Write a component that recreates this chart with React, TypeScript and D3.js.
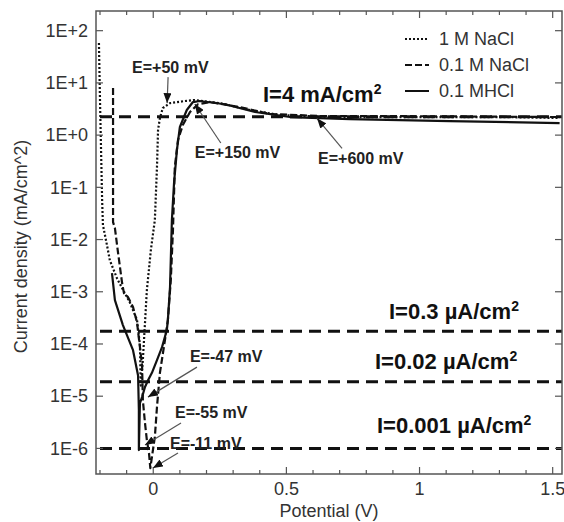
import React from "react";
import * as d3 from "d3";

// potential (V) and current density (mA/cm^2)
const naCl1M_E = [-0.204, -0.2, -0.196, -0.192, -0.189, -0.174, -0.163, -0.136, -0.114, -0.087, -0.061, -0.05, -0.047, -0.039, -0.024, -0.009, 0.006, 0.014, 0.018, 0.025, 0.036, 0.063, 0.119, 0.156, 0.25, 0.363, 0.475, 0.663, 1.0, 1.3, 1.526];
const naCl1M_I = [58, 4.7, 0.52, 0.057, 0.019, 0.0079, 0.004, 0.0018, 0.0011, 6.1e-4, 2.9e-4, 9.5e-5, 1.6e-5, 4.9e-5, 1.07e-3, 6.3e-3, 0.0236, 0.245, 1.25, 2.13, 3.3, 4.1, 4.5, 4.7, 4.1, 3.03, 2.43, 2.22, 2.22, 2.22, 2.13];

const naCl01M_E = [-0.151, -0.151, -0.151, -0.144, -0.132, -0.117, -0.11, -0.095, -0.076, -0.061, -0.05, -0.042, -0.039, -0.031, -0.024, -0.016, -0.011, 0.006, 0.014, 0.025, 0.044, 0.055, 0.066, 0.074, 0.081, 0.093, 0.111, 0.138, 0.168, 0.213, 0.325, 0.438, 0.625, 1.0, 1.526];
const naCl01M_I = [8.0, 0.52, 0.0216, 0.0166, 5.5e-3, 1.47e-3, 9.4e-4, 7.9e-4, 5.1e-4, 2.6e-4, 8.7e-5, 3.9e-5, 8.4e-6, 3.05e-6, 1.44e-6, 8.1e-7, 4.2e-7, 1.66e-6, 6.2e-6, 2.8e-5, 1.19e-4, 2.9e-4, 1.7e-3, 0.015, 0.245, 0.81, 1.56, 2.77, 3.9, 4.3, 3.45, 2.54, 2.32, 2.3, 2.22];

const hcl01M_E = [-0.155, -0.144, -0.114, -0.076, -0.057, -0.054, -0.054, -0.05, -0.042, -0.031, -0.02, -0.005, 0.014, 0.033, 0.051, 0.055, 0.063, 0.07, 0.078, 0.089, 0.1, 0.126, 0.149, 0.175, 0.269, 0.382, 0.513, 0.738, 1.113, 1.526];
const hcl01M_I = [2.28e-3, 6.9e-4, 2.3e-4, 7.6e-5, 2.5e-5, 5.4e-6, 9.3e-7, 7.4e-6, 9.6e-6, 1.5e-5, 2.0e-5, 2.8e-5, 4.9e-5, 8.7e-5, 1.85e-4, 2.9e-4, 1.23e-3, 0.0236, 0.12, 0.52, 1.43, 3.03, 4.3, 4.5, 3.9, 2.77, 2.22, 2.03, 1.86, 1.7];

const seriesNames = ["1 M NaCl", "0.1 M NaCl", "0.1 MHCl"];
const seriesDash = ["2,2", "7,3", "none"];

// horizontal reference levels and their labels
const refLevels = [2.24, 1.75e-4, 1.9e-5, 1e-6];
const refLabels = ["I=4 mA/cm", "I=0.3 \u00b5A/cm", "I=0.02 \u00b5A/cm", "I=0.001 \u00b5A/cm"];

// annotated potentials: tip of arrow at [E, I]
const annoText = ["E=+50 mV", "E=+150 mV", "E=+600 mV", "E=-47 mV", "E=-55 mV", "E=-11 mV"];
const annoE = [0.052, 0.156, 0.615, -0.02, -0.031, -0.001];
const annoI = [4.1, 3.95, 2.1, 9.6e-6, 1.16e-6, 4.2e-7];

const yTickValues = [1e2, 1e1, 1e0, 1e-1, 1e-2, 1e-3, 1e-4, 1e-5, 1e-6];
const yTickLabels = ["1E+2", "1E+1", "1E+0", "1E-1", "1E-2", "1E-3", "1E-4", "1E-5", "1E-6"];
const xTickValues = [0, 0.5, 1, 1.5];
const xTickLabels = ["0", "0.5", "1", "1.5"];

const W = 564;
const H = 522;
const margin = { top: 11, right: 2, bottom: 48, left: 96 };
const FONT = "Arial, 'Liberation Sans', sans-serif";

export default function App() {
  const x = d3.scaleLinear().domain([-0.215, 1.535]).range([margin.left, W - margin.right]);
  const y = d3.scaleLog().domain([Math.pow(10, -6.49), Math.pow(10, 2.377)]).range([H - margin.bottom, margin.top]);

  const line = d3
    .line<[number, number]>()
    .x((d) => x(d[0]))
    .y((d) => y(d[1]));

  const series = [
    d3.zip(naCl1M_E, naCl1M_I) as [number, number][],
    d3.zip(naCl01M_E, naCl01M_I) as [number, number][],
    d3.zip(hcl01M_E, hcl01M_I) as [number, number][],
  ];

  const x0 = margin.left;
  const x1 = W - margin.right;
  const y0 = margin.top;
  const y1 = H - margin.bottom;

  const minorX = d3.range(-0.2, 1.55, 0.1).map((v) => Math.round(v * 10) / 10);

  // pixel offsets of arrow start and label start relative to the tip
  const annoOffsets = [
    { sx: 1, sy: -26, tx: -35, ty: -30 },
    { sx: 26, sy: 39, tx: 0, ty: 54 },
    { sx: 25, sy: 30, tx: 1, ty: 46 },
    { sx: 49, sy: -30, tx: 42, ty: -35 },
    { sx: 36, sy: -22, tx: 30, ty: -27 },
    { sx: 25, sy: -15, tx: 17, ty: -19 },
  ];
  const refLabelPos = [
    { x: 263, dy: -15 },
    { x: 389, dy: -12 },
    { x: 375, dy: -13 },
    { x: 377, dy: -15 },
  ];

  return (
    <svg
      width={W}
      height={H}
      style={{ position: "absolute", left: 0, top: 0, background: "#fff" }}
      fontFamily={FONT}
    >
      <defs>
        <clipPath id="plot">
          <rect x={x0} y={y0} width={x1 - x0} height={y1 - y0} />
        </clipPath>
        <marker id="arrow" markerUnits="userSpaceOnUse" markerWidth={10} markerHeight={8} refX={10} refY={4} orient="auto">
          <path d="M0,0 L10,4 L0,8 z" fill="#111" />
        </marker>
      </defs>

      {/* reference levels */}
      <g clipPath="url(#plot)">
        {refLevels.map((v, i) => (
          <line key={i} x1={x0 + 4} x2={x1} y1={y(v)} y2={y(v)} stroke="#111" strokeWidth={3} strokeDasharray="12,7" />
        ))}
      </g>

      {/* curves */}
      <g clipPath="url(#plot)" fill="none" stroke="#111" strokeWidth={2.2}>
        {series.map((s, i) => (
          <path key={i} d={line(s) || ""} strokeDasharray={seriesDash[i]} strokeLinejoin="round" />
        ))}
      </g>

      {/* frame and ticks */}
      <rect x={x0} y={y0} width={x1 - x0} height={y1 - y0} fill="none" stroke="#555" strokeWidth={1.5} />
      <g stroke="#555" strokeWidth={1.2}>
        {minorX.map((v) => {
          const major = xTickValues.some((t) => Math.abs(t - v) < 1e-6);
          const len = major ? 7 : 4;
          return (
            <g key={v}>
              <line x1={x(v)} x2={x(v)} y1={y1} y2={y1 - len} />
              <line x1={x(v)} x2={x(v)} y1={y0} y2={y0 + len} />
            </g>
          );
        })}
        {yTickValues.map((v) => (
          <g key={v}>
            <line x1={x0} x2={x0 + 7} y1={y(v)} y2={y(v)} />
            <line x1={x1} x2={x1 - 7} y1={y(v)} y2={y(v)} />
          </g>
        ))}
      </g>

      {/* tick labels */}
      <g fill="#333" fontSize={18}>
        {yTickValues.map((v, i) => (
          <text key={v} x={x0 - 8} y={y(v)} dy="0.35em" textAnchor="end">
            {yTickLabels[i]}
          </text>
        ))}
        {xTickValues.map((v, i) => (
          <text key={v} x={x(v)} y={495} textAnchor="middle">
            {xTickLabels[i]}
          </text>
        ))}
        <text x={(x0 + x1) / 2} y={517} textAnchor="middle" fontSize={18}>
          Potential (V)
        </text>
        <text transform={`translate(27,${(y0 + y1) / 2 + 4}) rotate(-90)`} textAnchor="middle" fontSize={18}>
          Current density (mA/cm^2)
        </text>
      </g>

      {/* legend */}
      <g>
        {seriesNames.map((n, i) => (
          <g key={n} transform={`translate(405,${39 + i * 26})`}>
            <line x1={0} x2={24} y1={0} y2={0} stroke="#111" strokeWidth={2} strokeDasharray={seriesDash[i]} />
            <text x={34} y={0} dy="0.35em" fontSize={18} fill="#333">
              {n}
            </text>
          </g>
        ))}
      </g>

      {/* reference labels */}
      <g fontSize={22} fontWeight="bold" fill="#111">
        {refLevels.map((v, i) => (
          <text key={i} x={refLabelPos[i].x} y={y(v) + refLabelPos[i].dy}>
            {refLabels[i]}
            <tspan dy={-8} fontSize={14}>
              2
            </tspan>
          </text>
        ))}
      </g>

      {/* annotations */}
      <g>
        {annoText.map((t, i) => {
          const tx = x(annoE[i]);
          const ty = y(annoI[i]);
          const o = annoOffsets[i];
          return (
            <g key={t}>
              <line x1={tx + o.sx} y1={ty + o.sy} x2={tx} y2={ty} stroke="#555" strokeWidth={1.2} markerEnd="url(#arrow)" />
              <text x={tx + o.tx} y={ty + o.ty} fontSize={16} fontWeight="bold" fill="#222">
                {t}
              </text>
            </g>
          );
        })}
      </g>
    </svg>
  );
}
